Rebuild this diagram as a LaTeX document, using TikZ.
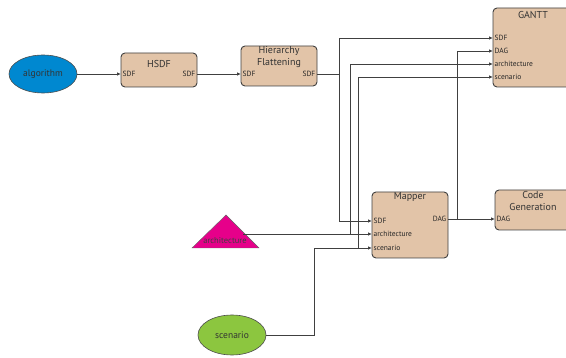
\documentclass[tikz,border=0pt]{standalone}
\usepackage{fontspec}
\setmainfont{PT Sans}
\usetikzlibrary{positioning, arrows.meta, calc, shapes.geometric}

\definecolor{boxtan}{RGB}{226,196,168}
\definecolor{algblue}{RGB}{0,136,208}
\definecolor{archpink}{RGB}{230,0,138}
\definecolor{scengreen}{RGB}{140,198,63}

\begin{document}
\begin{tikzpicture}[
    x=1pt, y=-1pt,
    % actor blocks
    actor/.style={
        rectangle,
        rounded corners=4pt,
        draw=black!75,
        line width=0.9pt,
        fill=boxtan
    },
    title/.style={
        font=\fontsize{10}{12}\selectfont,
        text=black!80,
        align=center,
        inner sep=0pt
    },
    port/.style={
        font=\fontsize{7.5}{9}\selectfont,
        text=black!85,
        inner sep=1.5pt
    },
    source/.style={
        ellipse,
        draw=black!70,
        line width=0.6pt,
        minimum width=68pt,
        minimum height=38pt,
        font=\fontsize{9.5}{11}\selectfont,
        text=black!80
    },
    arrow/.style={
        -{Latex[length=4pt, width=3.5pt]},
        line width=0.8pt,
        black!75
    },
    wire/.style={
        line width=0.8pt,
        black!75
    }
]
\useasboundingbox (0,0) rectangle (566,358);

% === Inputs ===
\node[source, fill=algblue] (alg) at (43,74) {algorithm};
\node[source, fill=scengreen, minimum height=40pt] (scen) at (232,335) {scenario};
\filldraw[fill=archpink, draw=black!60, line width=0.4pt] (192,248) -- (226,215) -- (259,248) -- cycle;
\node[font=\fontsize{8.5}{10}\selectfont, text=black!75, inner sep=0pt] (arch) at (225,241) {architecture};
\coordinate (arch-out) at (243,234);

% === HSDF ===
\node[actor, minimum width=76pt, minimum height=34pt] (hsdf) at (159,70) {};
\node[title] (hsdf-t) at (159,64) {HSDF};
\node[port, anchor=west] (hsdf-in) at (121,74) {SDF};
\node[port, anchor=east] (hsdf-out) at (197,74) {SDF};

% === Hierarchy Flattening ===
\node[actor, minimum width=76pt, minimum height=40pt] (hf) at (279,66) {};
\node[title] (hf-t) at (279,57) {Hierarchy\\Flattening};
\node[port, anchor=west] (hf-in) at (241,74) {SDF};
\node[port, anchor=east] (hf-out) at (317,74) {SDF};

% === GANTT ===
\node[actor, minimum width=80pt, minimum height=79pt] (gantt) at (533,47.5) {};
\node[title] (gantt-t) at (533,15) {GANTT};
\node[port, anchor=west] (g-sdf) at (493,38) {SDF};
\node[port, anchor=west] (g-dag) at (493,51) {DAG};
\node[port, anchor=west] (g-arch) at (493,64) {architecture};
\node[port, anchor=west] (g-scen) at (493,77) {scenario};

% === Mapper ===
\node[actor, minimum width=76pt, minimum height=66pt] (mapper) at (410,225) {};
\node[title] (mapper-t) at (410,197) {Mapper};
\node[port, anchor=west] (m-sdf) at (372,221) {SDF};
\node[port, anchor=west] (m-arch) at (372,234) {architecture};
\node[port, anchor=west] (m-scen) at (372,248) {scenario};
\node[port, anchor=east] (m-dag) at (448,219) {DAG};

% === Code Generation ===
\node[actor, minimum width=76pt, minimum height=40pt] (cg) at (533,210) {};
\node[title] (cg-t) at (533,201) {Code\\Generation};
\node[port, anchor=west] (cg-dag) at (495,219) {DAG};

% === Branch points ===
\coordinate (sdf-split) at (339,74);
\coordinate (arch-split) at (350,234);
\coordinate (scen-split) at (358,248);
\coordinate (dag-split) at (457,219);

% === Connectors ===
\draw[arrow] (alg.east) -- (hsdf-in.west);
\draw[arrow] (hsdf-out.east) -- (hf-in.west);
\draw[wire] (hf-out.east) -- (sdf-split);
\draw[arrow] (sdf-split) |- (g-sdf.west);
\draw[arrow] (sdf-split) |- (m-sdf.west);
\draw[arrow] (arch-out) -- (m-arch.west);
\draw[arrow] (arch-split) |- (g-arch.west);
\draw[arrow] (scen.east) -| ($(scen-split)+(-44,0)$) -- (m-scen.west);
\draw[arrow] (scen-split) |- (g-scen.west);
\draw[arrow] (m-dag.east) -- (cg-dag.west);
\draw[arrow] (dag-split) |- (g-dag.west);

\end{tikzpicture}
\end{document}
